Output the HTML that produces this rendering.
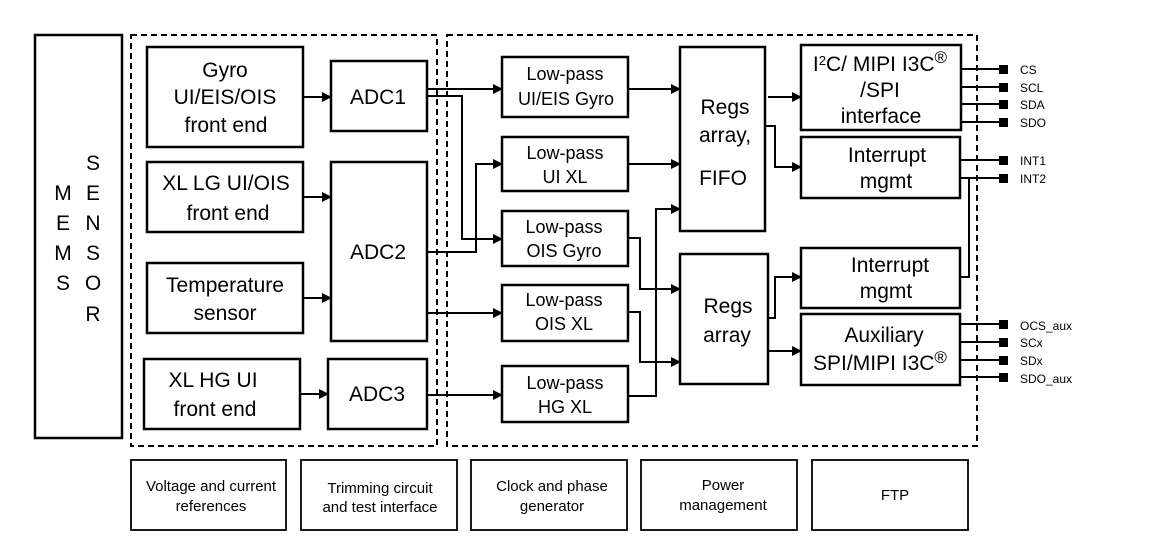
<!DOCTYPE html>
<html><head><meta charset="utf-8"><style>
html,body{margin:0;padding:0;background:#fff;}
svg{display:block;font-family:"Liberation Sans",Arial,sans-serif;}
</style></head><body>
<svg width="1163" height="555" viewBox="0 0 1163 555" xmlns="http://www.w3.org/2000/svg">
<defs>
<marker id="a" markerWidth="10" markerHeight="10" refX="9" refY="5" orient="auto" markerUnits="userSpaceOnUse">
<path d="M0,0 L10,5 L0,10 z" fill="#000"/></marker>
</defs>
<rect width="1163" height="555" fill="#fff"/>
<g fill="none" stroke="#000" stroke-width="2.5">
<rect x="35" y="35" width="87" height="403"/>
<rect x="147" y="47" width="156" height="100"/>
<rect x="331" y="61" width="96" height="70"/>
<rect x="147" y="162" width="156" height="70"/>
<rect x="331" y="162" width="96" height="179"/>
<rect x="147" y="263" width="156" height="70"/>
<rect x="144" y="359" width="156" height="70"/>
<rect x="328" y="359" width="99" height="70"/>
<rect x="502" y="57" width="126" height="60"/>
<rect x="502" y="137" width="126" height="54"/>
<rect x="502" y="211" width="126" height="55"/>
<rect x="502" y="285" width="126" height="56"/>
<rect x="502" y="366" width="126" height="56"/>
<rect x="680" y="47" width="85" height="184"/>
<rect x="680" y="254" width="88" height="130"/>
<rect x="801" y="45" width="160" height="85"/>
<rect x="801" y="137" width="159" height="61"/>
<rect x="801" y="248" width="159" height="60"/>
<rect x="801" y="314" width="159" height="71"/>
</g>
<g fill="none" stroke="#000" stroke-width="2" stroke-dasharray="6,4">
<rect x="131" y="35" width="306" height="411"/>
<rect x="447" y="35" width="530" height="411"/>
</g>
<g fill="none" stroke="#000" stroke-width="1.8">
<rect x="131" y="460" width="155" height="70"/>
<rect x="301" y="460" width="156" height="70"/>
<rect x="471" y="460" width="156" height="70"/>
<rect x="641" y="460" width="156" height="70"/>
<rect x="812" y="460" width="156" height="70"/>
</g>
<g fill="none" stroke="#000" stroke-width="2">
<path d="M303 97 H331" marker-end="url(#a)"/>
<path d="M303 197 H331" marker-end="url(#a)"/>
<path d="M303 298 H331" marker-end="url(#a)"/>
<path d="M300 394 H328" marker-end="url(#a)"/>
<path d="M427 89 H502" marker-end="url(#a)"/>
<path d="M427 96 H462 V239 H502" marker-end="url(#a)"/>
<path d="M427 252 H476 V164 H502" marker-end="url(#a)"/>
<path d="M427 313 H502" marker-end="url(#a)"/>
<path d="M427 395 H502" marker-end="url(#a)"/>
<path d="M628 89 H680" marker-end="url(#a)"/>
<path d="M628 164 H680" marker-end="url(#a)"/>
<path d="M628 396 H656 V209 H680" marker-end="url(#a)"/>
<path d="M628 238 H640 V289 H680" marker-end="url(#a)"/>
<path d="M628 312 H640 V362 H680" marker-end="url(#a)"/>
<path d="M768 97 H801" marker-end="url(#a)"/>
<path d="M765 126 H775 V167 H801" marker-end="url(#a)"/>
<path d="M768 318 H775 V277 H801" marker-end="url(#a)"/>
<path d="M768 351 H801" marker-end="url(#a)"/>
<path d="M960 277 H969 V178"/>
<path d="M961 69 H1003 M961 87 H1003 M961 104 H1003 M961 122 H1003"/>
<path d="M960 160 H1003 M960 178 H1003"/>
<path d="M960 324 H1003 M960 342 H1003 M960 360 H1003 M960 377 H1003"/>
</g>
<g fill="#000">
<rect x="999" y="65" width="9" height="9"/><rect x="999" y="83" width="9" height="9"/>
<rect x="999" y="100" width="9" height="9"/><rect x="999" y="118" width="9" height="9"/>
<rect x="999" y="156" width="9" height="9"/><rect x="999" y="174" width="9" height="9"/>
<rect x="999" y="320" width="9" height="9"/><rect x="999" y="338" width="9" height="9"/>
<rect x="999" y="356" width="9" height="9"/><rect x="999" y="373" width="9" height="9"/>
</g>
<g font-size="12" fill="#000">
<text x="1020" y="74">CS</text><text x="1020" y="92">SCL</text>
<text x="1020" y="109">SDA</text><text x="1020" y="127">SDO</text>
<text x="1020" y="165">INT1</text><text x="1020" y="183">INT2</text>
<text x="1020" y="330">OCS_aux</text><text x="1020" y="347">SCx</text>
<text x="1020" y="365">SDx</text><text x="1020" y="383">SDO_aux</text>
</g>
<g font-size="21" fill="#000" text-anchor="middle">
<text x="63" y="200">M</text><text x="63" y="230">E</text><text x="63" y="260">M</text><text x="63" y="290">S</text>
<text x="93" y="170">S</text><text x="93" y="200">E</text><text x="93" y="230">N</text><text x="93" y="260">S</text><text x="93" y="290">O</text><text x="93" y="321">R</text>
<text x="225" y="77">Gyro</text><text x="225" y="104">UI/EIS/OIS</text><text x="226" y="132">front end</text>
<text x="226" y="190">XL LG UI/OIS</text><text x="228" y="220">front end</text>
<text x="225" y="292">Temperature</text><text x="225" y="320">sensor</text>
<text x="213" y="387">XL HG UI</text><text x="215" y="416">front end</text>
<text x="378" y="104">ADC1</text>
<text x="378" y="259">ADC2</text>
<text x="377" y="401">ADC3</text>
<text x="725" y="114">Regs</text><text x="725" y="142">array,</text><text x="723" y="185">FIFO</text>
<text x="728" y="313">Regs</text><text x="727" y="342">array</text>
<text x="880" y="71">I<tspan font-size="13" dy="-6">2</tspan><tspan dy="6">C/ MIPI I3C</tspan><tspan font-size="17" dy="-8">®</tspan></text>
<text x="880" y="97">/SPI</text>
<text x="881" y="123">interface</text>
<text x="887" y="162">Interrupt</text><text x="886" y="188">mgmt</text>
<text x="890" y="272">Interrupt</text><text x="886" y="298">mgmt</text>
<text x="884" y="342">Auxiliary</text>
<text x="880" y="370">SPI/MIPI I3C<tspan font-size="17" dy="-7">®</tspan></text>
</g>
<g font-size="18" fill="#000" text-anchor="middle">
<text x="565" y="80">Low-pass</text><text x="566" y="105">UI/EIS Gyro</text>
<text x="565" y="159">Low-pass</text><text x="565" y="183">UI XL</text>
<text x="564" y="233">Low-pass</text><text x="564" y="257">OIS Gyro</text>
<text x="564" y="306">Low-pass</text><text x="564" y="330">OIS XL</text>
<text x="565" y="389">Low-pass</text><text x="565" y="413">HG XL</text>
</g>
<g font-size="15" fill="#000" text-anchor="middle">
<text x="211" y="491">Voltage and current</text><text x="211" y="511">references</text>
<text x="380" y="493">Trimming circuit</text><text x="380" y="512">and test interface</text>
<text x="552" y="491">Clock and phase</text><text x="552" y="511">generator</text>
<text x="723" y="490">Power</text><text x="723" y="510">management</text>
<text x="895" y="500">FTP</text>
</g>
</svg>
</body></html>
